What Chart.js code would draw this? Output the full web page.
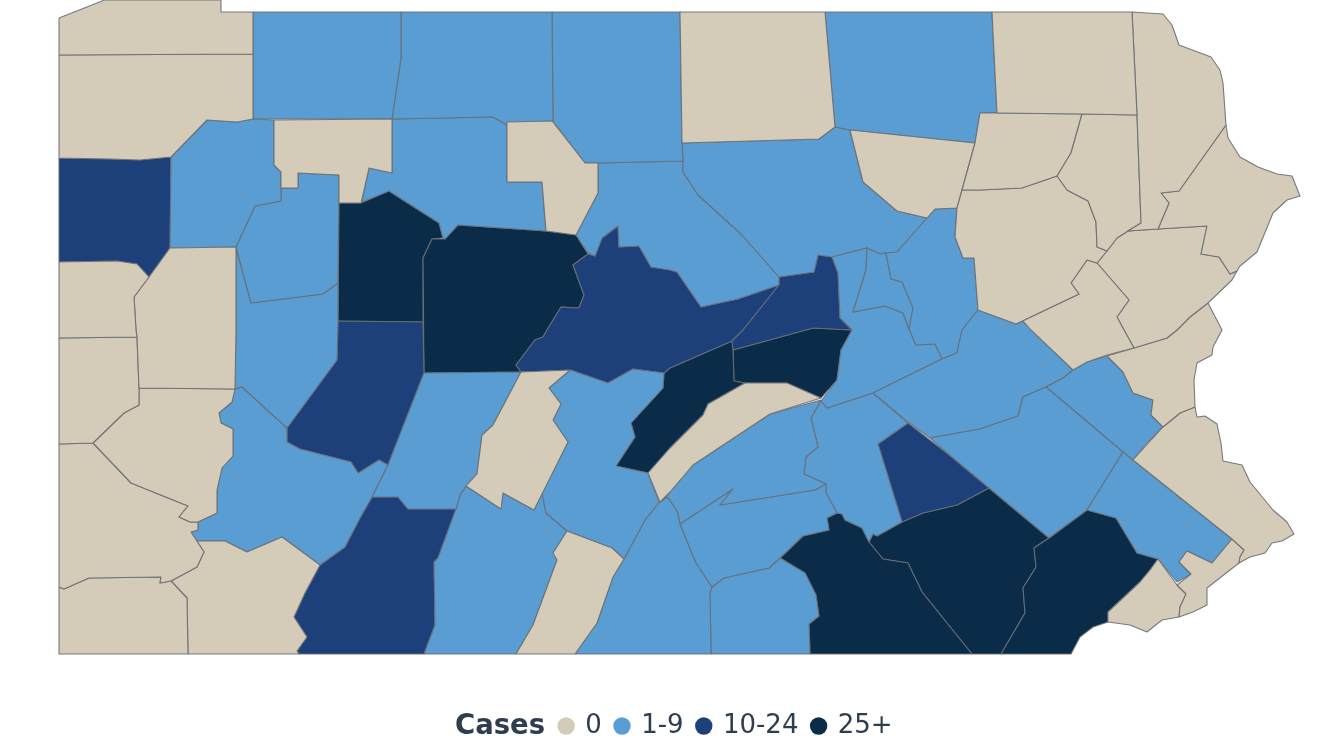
<!DOCTYPE html>
<html>
<head>
<meta charset="utf-8">
<style>html,body{margin:0;padding:0;background:#fff}#wrap{width:1320px;height:743px;position:relative}</style>
<script src="https://cdn.jsdelivr.net/npm/chart.js@4/dist/chart.umd.min.js"></script>
</head>
<body>
<div id="wrap"><canvas id="c"></canvas></div>
<script>
const legendTitle = "Cases";
const caseLabels = ["0", "1-9", "10-24", "25+"];
const caseColors = ["#D4CBB8", "#599DD2", "#1D3F7A", "#0B2C48"];

// Outlines (map units)
const a1=[[59,18],[102,1],[103,0],[221,0],[221,12],[253,12],[253,54],[59,55]];
const a2=[[59,55],[253,54],[253,119],[237,122],[207,120],[171,157],[140,160],[110,159],[59,158]];
const a3=[[59,158],[110,159],[140,160],[171,157],[170,248],[149,277],[137,264],[117,261],[59,262]];
const a4=[[171,157],[207,120],[237,122],[253,119],[274,120],[274,165],[281,172],[281,201],[255,206],[236,247],[170,248]];
const a5=[[253,12],[401,12],[401,58],[392,119],[253,119]];
const a6=[[401,12],[552,12],[553,121],[507,125],[493,117],[392,119],[401,58]];
const a7=[[552,12],[680,12],[682,143],[683,161],[598,163],[585,163],[553,121]];
const a8=[[680,12],[825,12],[835,127],[819,139],[682,143]];
const a9=[[825,12],[992,12],[997,113],[980,113],[975,143],[850,130],[835,127]];
const a10=[[992,12],[1132,12],[1137,115],[1082,114],[1000,113],[997,113]];
const a11=[[1132,12],[1163,14],[1172,25],[1179,45],[1211,57],[1220,70],[1223,83],[1226,125],[1179,191],[1161,193],[1169,203],[1158,229],[1128,231],[1141,223],[1137,115]];
const a12=[[1226,125],[1228,138],[1240,157],[1258,167],[1277,174],[1292,176],[1300,196],[1287,200],[1273,213],[1257,252],[1240,266],[1237,271],[1230,274],[1219,257],[1201,254],[1207,226],[1158,229],[1169,203],[1161,193],[1179,191]];
const a13=[[1082,114],[1137,115],[1141,223],[1128,231],[1117,238],[1107,251],[1097,247],[1096,222],[1088,201],[1067,190],[1057,176],[1071,153]];
const a14=[[980,113],[1000,113],[1082,114],[1071,153],[1057,176],[1022,188],[980,190],[962,190],[975,143]];
const a15=[[962,190],[957,208],[955,237],[963,258],[974,258],[978,310],[1016,324],[1079,294],[1071,283],[1087,260],[1097,263],[1107,251],[1097,247],[1096,222],[1088,201],[1067,190],[1057,176],[1022,188],[980,190]];
const a16=[[1087,260],[1097,263],[1129,300],[1117,317],[1124,330],[1134,348],[1107,355],[1087,362],[1073,370],[1031,330],[1023,321],[1016,324],[1079,294],[1071,283]];
const a17=[[1097,263],[1107,251],[1117,238],[1128,231],[1158,229],[1207,226],[1201,254],[1219,257],[1230,274],[1237,271],[1232,280],[1208,303],[1190,317],[1177,330],[1167,338],[1134,348],[1124,330],[1117,317],[1129,300]];
const a18=[[1208,303],[1222,330],[1213,347],[1212,355],[1197,363],[1194,380],[1195,407],[1180,413],[1163,427],[1151,415],[1153,400],[1133,393],[1123,372],[1107,356],[1134,348],[1167,338],[1177,330],[1190,317]];
const a19=[[1195,407],[1197,417],[1205,416],[1217,424],[1221,443],[1223,461],[1242,465],[1250,482],[1273,510],[1287,522],[1294,534],[1282,541],[1272,543],[1265,553],[1250,557],[1239,563],[1240,557],[1244,550],[1232,539],[1133,460],[1163,427],[1180,413]];
const a20=[[1123,452],[1133,460],[1232,539],[1212,563],[1187,551],[1179,562],[1191,574],[1177,582],[1158,559],[1137,553],[1116,518],[1087,510]];
const a21=[[1187,551],[1212,563],[1232,539],[1244,550],[1240,557],[1239,563],[1207,588],[1207,605],[1193,612],[1179,617],[1180,607],[1186,594],[1177,585],[1191,574],[1179,562]];
const a22=[[1158,559],[1177,585],[1186,594],[1180,607],[1179,617],[1162,620],[1147,632],[1130,625],[1108,622],[1108,612],[1140,582],[1150,570]];
const a23=[[1087,510],[1116,518],[1137,553],[1158,559],[1150,570],[1140,582],[1108,612],[1108,622],[1093,627],[1080,637],[1071,654],[1001,654],[1025,613],[1023,588],[1036,567],[1034,548],[1049,538]];
const a24=[[930,438],[980,429],[1018,416],[1023,397],[1046,387],[1123,452],[1087,510],[1049,538],[989,488],[953,458]];
const a25=[[1046,387],[1063,378],[1073,370],[1087,362],[1107,356],[1123,372],[1133,393],[1153,400],[1151,415],[1163,427],[1147,443],[1133,460],[1123,452]];
const a26=[[978,310],[1016,324],[1023,321],[1073,370],[1063,378],[1046,387],[1023,397],[1018,416],[980,429],[930,438],[908,422],[873,393],[942,359],[957,353],[962,330]];
const a27=[[886,253],[897,252],[935,209],[957,208],[955,237],[963,258],[974,258],[978,310],[962,330],[957,353],[942,359],[935,344],[916,345],[909,329],[913,308],[902,282],[891,279]];
const a28=[[867,248],[880,254],[886,253],[891,279],[902,282],[913,308],[909,329],[903,313],[885,306],[853,312],[866,270]];
const a29=[[832,257],[867,248],[866,270],[853,312],[885,306],[903,313],[909,329],[916,345],[935,344],[942,359],[873,393],[827,408],[821,401],[837,380],[841,350],[852,330],[840,318],[838,273]];
const a30=[[818,255],[832,257],[838,273],[840,318],[852,330],[813,328],[733,350],[732,341],[743,330],[779,285],[779,277],[814,272]];
const a31=[[682,143],[819,139],[835,127],[850,130],[863,182],[897,211],[927,218],[897,252],[886,253],[880,254],[867,248],[832,257],[818,255],[814,272],[779,277],[741,234],[698,195],[683,172],[683,161]];
const a32=[[850,130],[975,143],[962,190],[957,208],[935,209],[927,218],[897,211],[863,182]];
const a33=[[598,163],[683,161],[683,172],[698,195],[741,234],[779,277],[779,285],[738,299],[701,307],[677,272],[670,270],[651,267],[639,246],[619,247],[618,226],[602,238],[595,256],[588,253],[576,235],[598,193]];
const a34=[[588,254],[595,256],[602,238],[618,226],[619,247],[639,246],[651,267],[670,270],[677,272],[701,307],[738,299],[779,285],[743,330],[732,341],[670,368],[664,373],[633,369],[608,383],[571,370],[521,372],[516,365],[535,340],[543,337],[547,330],[561,307],[579,308],[584,295],[573,265]];
const a35=[[458,225],[546,231],[576,235],[588,254],[573,265],[584,295],[579,308],[561,307],[547,330],[543,337],[535,340],[516,365],[521,372],[424,373],[423,258],[432,239],[445,239]];
const a36=[[339,203],[361,203],[389,191],[439,223],[443,238],[432,239],[423,258],[423,322],[338,321]];
const a37=[[392,119],[493,117],[507,125],[507,182],[542,182],[546,231],[458,225],[445,239],[443,238],[439,223],[389,191],[362,202],[369,168],[392,173]];
const a38=[[507,122],[552,121],[585,163],[598,163],[598,193],[576,235],[546,231],[542,182],[507,182]];
const a39=[[274,120],[392,119],[392,173],[369,168],[361,203],[339,203],[339,175],[298,173],[298,188],[281,188],[281,172],[274,165]];
const a40=[[281,188],[298,188],[298,173],[339,175],[338,283],[323,294],[251,303],[236,247],[255,206],[281,201]];
const a41=[[236,247],[251,303],[323,294],[338,283],[338,321],[337,360],[287,428],[242,387],[235,389],[236,330]];
const a42=[[338,321],[423,322],[424,373],[388,465],[379,460],[360,472],[358,473],[351,462],[300,449],[287,442],[287,428],[337,360]];
const a43=[[424,373],[521,372],[493,425],[482,435],[477,474],[466,486],[460,495],[456,509],[408,509],[398,497],[372,497],[388,465]];
const a44=[[521,372],[570,370],[549,388],[561,404],[553,420],[568,442],[534,510],[503,493],[501,509],[466,486],[477,474],[482,435],[493,425]];
const a45=[[570,370],[608,383],[633,369],[664,373],[663,388],[631,423],[635,437],[616,466],[648,473],[659,502],[645,520],[624,559],[612,548],[567,531],[546,513],[542,493],[568,442],[553,420],[561,404],[549,388]];
const a46=[[664,373],[670,368],[732,341],[733,350],[734,381],[745,383],[708,404],[703,415],[670,448],[648,473],[616,466],[635,437],[631,423],[663,388]];
const a47=[[733,350],[813,328],[852,330],[841,350],[837,380],[821,398],[787,383],[745,383],[734,381]];
const a48=[[745,383],[787,383],[821,398],[770,414],[693,465],[670,492],[660,502],[648,473],[670,448],[703,415],[708,404]];
const a49=[[821,400],[811,418],[818,447],[806,457],[804,474],[826,484],[815,490],[720,505],[733,489],[680,524],[678,513],[670,500],[667,497],[660,502],[670,492],[693,465],[770,414]];
const a50=[[680,524],[733,489],[720,505],[815,490],[826,484],[826,493],[837,513],[827,518],[829,530],[803,536],[780,558],[769,568],[724,578],[712,587],[696,563]];
const a51=[[660,502],[667,497],[670,500],[678,513],[680,524],[696,563],[712,587],[710,592],[711,654],[575,654],[597,623],[613,577],[624,559],[645,520]];
const a52=[[712,587],[724,578],[769,568],[780,558],[805,573],[816,595],[819,616],[809,624],[810,654],[711,654],[710,592]];
const a53=[[780,558],[803,536],[829,530],[827,518],[837,513],[842,514],[845,520],[862,528],[869,542],[883,559],[908,563],[922,592],[972,654],[810,654],[809,624],[819,616],[816,595],[805,573]];
const a54=[[869,542],[873,534],[877,536],[902,522],[923,513],[957,505],[989,488],[1049,538],[1034,548],[1036,567],[1023,588],[1025,613],[1001,654],[972,654],[922,592],[908,563],[883,559]];
const a55=[[908,423],[953,458],[989,488],[957,505],[923,513],[902,522],[878,444]];
const a56=[[821,401],[827,408],[873,393],[908,423],[878,444],[902,522],[877,536],[873,534],[869,542],[862,528],[845,520],[842,514],[837,513],[826,493],[826,484],[804,474],[806,457],[818,447],[811,418]];
const a57=[[59,262],[117,261],[137,264],[149,277],[134,297],[136,330],[137,337],[59,338]];
const a58=[[170,248],[236,247],[236,330],[235,389],[139,388],[137,337],[136,330],[134,297],[149,277]];
const a59=[[59,338],[137,337],[139,388],[139,405],[124,413],[93,443],[59,444]];
const a60=[[139,388],[235,389],[232,402],[219,413],[221,423],[233,429],[233,456],[222,468],[217,490],[217,513],[198,522],[190,522],[179,517],[188,506],[131,483],[93,443],[124,413],[139,405]];
const a61=[[59,444],[93,443],[131,483],[188,506],[179,517],[190,522],[198,522],[198,530],[191,532],[204,552],[197,567],[171,581],[160,583],[161,577],[89,578],[64,589],[59,587]];
const a62=[[59,587],[64,589],[89,578],[161,577],[160,583],[171,581],[187,598],[188,654],[59,654]];
const a63=[[197,541],[225,541],[247,552],[282,537],[320,565],[305,593],[294,617],[307,637],[297,651],[299,654],[188,654],[187,598],[171,581],[197,567],[204,552]];
const a64=[[242,387],[287,428],[287,442],[300,449],[351,462],[358,473],[360,472],[379,460],[388,465],[372,497],[360,518],[345,547],[320,565],[282,537],[247,552],[225,541],[197,541],[191,532],[198,530],[198,522],[217,513],[217,490],[222,468],[233,456],[233,429],[221,423],[219,413],[232,402],[235,389]];
const a65=[[372,497],[398,497],[408,509],[456,509],[438,558],[434,562],[435,625],[424,654],[299,654],[297,651],[307,637],[294,617],[305,593],[320,565],[345,547],[360,518]];
const a66=[[456,509],[460,495],[466,486],[501,509],[503,493],[534,510],[542,493],[546,513],[567,531],[553,553],[557,560],[533,625],[516,654],[424,654],[435,625],[434,562],[438,558]];
const a67=[[567,531],[612,548],[624,559],[613,577],[597,623],[575,654],[516,654],[533,625],[557,560],[553,553]];

const class0 = [a1,a2,a8,a10,a11,a12,a13,a14,a15,a16,a17,a18,a19,a21,a22,a32,a38,a39,a44,a48,a57,a58,a59,a60,a61,a62,a63,a67];
const class1 = [a4,a5,a6,a7,a9,a20,a24,a25,a26,a27,a28,a29,a31,a33,a37,a40,a41,a43,a45,a49,a50,a51,a52,a56,a64,a66];
const class2 = [a3,a30,a34,a42,a55,a65];
const class3 = [a23,a35,a36,a46,a47,a53,a54];
const classes = [class0, class1, class2, class3];

const datasets = [];
classes.forEach((list, k) => list.forEach(shape => {
  const ring = shape.concat([shape[0]]);
  datasets.push({
    label: caseLabels[k],
    data: ring.map(p => ({x: p[0], y: p[1]})),
    showLine: true,
    fill: 'shape',
    backgroundColor: caseColors[k],
    borderColor: 'rgba(105,110,115,0.9)',
    borderWidth: 1.1,
    pointRadius: 0,
    tension: 0,
    borderJoinStyle: 'round'
  });
}));

const legendPlace = {
  id: 'legendPlace',
  beforeUpdate(chart) {
    const lg = chart.legend;
    if (!lg._flat) {
      const fit = lg.fit;
      lg.fit = function () { fit.call(this); this.height = 0; };
      lg._flat = true;
    }
  },
  afterLayout(chart) {
    chart.legend.left = 546;
    chart.legend.right = 1000;
    chart.legend.top = 699;
  },
  afterDraw(chart) {
    const ctx = chart.ctx;
    ctx.save();
    ctx.font = 'bold 27.5px "DejaVu Sans"';
    ctx.fillStyle = '#2F3E4E';
    ctx.textBaseline = 'middle';
    ctx.textAlign = 'left';
    ctx.fillText(legendTitle, 455, 727);
    ctx.restore();
  }
};

new Chart(document.getElementById('c'), {
  type: 'scatter',
  data: { datasets },
  plugins: [legendPlace],
  options: {
    responsive: true,
    maintainAspectRatio: false,
    animation: false,
    events: [],
    layout: { padding: 0 },
    scales: {
      x: { type: 'linear', display: false, min: 0, max: 1320 },
      y: { type: 'linear', display: false, min: 0, max: 743, reverse: true }
    },
    plugins: {
      tooltip: { enabled: false },
      legend: {
        display: true,
        position: 'bottom',
        align: 'start',
        labels: {
          usePointStyle: true,
          boxHeight: 12.3,
          boxWidth: 12.3,
          padding: 14,
          color: '#2F3E4E',
          font: { family: '"DejaVu Sans"', size: 26 },
          generateLabels: () => caseLabels.map((t, i) => ({
            text: t,
            fillStyle: caseColors[i],
            strokeStyle: caseColors[i],
            fontColor: '#2F3E4E',
            lineWidth: 0,
            pointStyle: 'circle',
            hidden: false,
            datasetIndex: i
          }))
        }
      }
    }
  }
});
</script>
</body>
</html>
